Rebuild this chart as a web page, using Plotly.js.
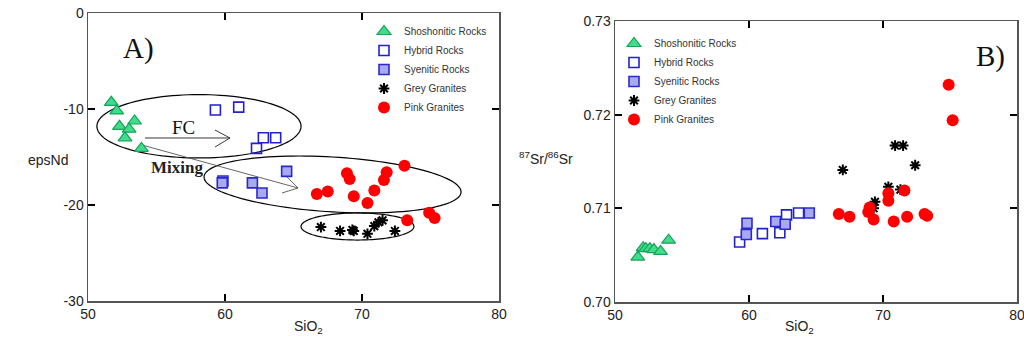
<!DOCTYPE html>
<html>
<head>
<meta charset="utf-8">
<script src="https://cdn.plot.ly/plotly-3.0.1.min.js"></script>
<style>
  html, body { margin: 0; padding: 0; background: #fff; }
  #chart { width: 1024px; height: 345px; }
</style>
</head>
<body>
<div id="chart"></div>
<script>
// ---- Panel A: SiO2 vs epsNd ----
const shoshSiO2A = [51.7, 52.1, 52.3, 53.4, 53.0, 52.7, 53.9];
const shoshNd    = [-9.3, -10.2, -11.8, -11.25, -12.1, -13.0, -14.1];
const hybridSiO2A = [59.3, 61.0, 62.8, 63.7, 62.3];
const hybridNd    = [-10.1, -9.8, -13.0, -13.0, -14.1];
const syenSiO2A = [59.85, 59.8, 62.0, 62.7, 64.5];
const syenNd    = [-17.5, -17.7, -17.7, -18.75, -16.5];
const greySiO2A = [67.0, 68.4, 69.3, 69.4, 70.4, 70.9, 71.2, 71.5, 72.4];
const greyNd    = [-22.3, -22.7, -22.6, -22.7, -23.0, -22.2, -21.8, -21.6, -22.7];
const pinkSiO2A = [73.1, 71.8, 71.6, 68.9, 69.1, 67.5, 66.7, 69.4, 70.9, 70.4, 73.3, 74.9, 75.3];
const pinkNd    = [-15.9, -16.6, -17.4, -16.7, -17.3, -18.6, -18.85, -19.1, -18.5, -19.8, -21.6, -20.8, -21.35];

// ---- Panel B: SiO2 vs 87Sr/86Sr ----
const shoshSiO2B = [51.7, 52.1, 52.3, 52.6, 52.9, 53.4, 54.0];
const shoshSr    = [0.7048, 0.7058, 0.7057, 0.7057, 0.7056, 0.7054, 0.7066];
const hybridSiO2B = [59.3, 61.0, 62.3, 62.8, 63.7];
const hybridSr    = [0.7064, 0.7073, 0.7074, 0.7093, 0.7095];
const syenSiO2B = [59.85, 59.8, 62.0, 62.7, 64.5];
const syenSr    = [0.7084, 0.7072, 0.7086, 0.7083, 0.7095];
const greySiO2B = [67.0, 70.4, 71.3, 69.3, 69.4, 70.9, 71.5, 72.4];
const greySr    = [0.7141, 0.7123, 0.7120, 0.7100, 0.7107, 0.7167, 0.7167, 0.7146];
const pinkSiO2B = [71.6, 70.4, 70.4, 69.0, 68.9, 66.7, 67.5, 69.3, 70.8, 71.8, 73.1, 73.3, 74.9, 75.2];
const pinkSr    = [0.7119, 0.7116, 0.7108, 0.7101, 0.7096, 0.7094, 0.7091, 0.7088, 0.7086, 0.7091, 0.7094, 0.7092, 0.7232, 0.7194];

const groupNames = ['Shoshonitic Rocks', 'Hybrid Rocks', 'Syenitic Rocks', 'Grey Granites', 'Pink Granites'];
const xTicks = [50, 60, 70, 80];
const ndTicks = [0, -10, -20, -30];
const ndTickText = ['0', '-10', '-20', '-30'];
const srTicks = [0.70, 0.71, 0.72, 0.73];

// marker styles per group
const styles = [
  { symbol: 'triangle-up', size: 12, color: '#3fdc8a', line: { color: '#17a25c', width: 1.2 } },
  { symbol: 'square-open', size: 10, color: '#2222cc', line: { color: '#2222cc', width: 1.6 } },
  { symbol: 'square', size: 10, color: '#a9a9f2', line: { color: '#2a2acc', width: 1.6 } },
  { symbol: 'asterisk-open', size: 9, color: '#000', line: { color: '#000', width: 2 } },
  { symbol: 'circle', size: 12, color: '#ff0000', line: { color: '#ff0000', width: 0 } }
];

function makeTraces(xs, ys, xa, ya, legendId) {
  return xs.map((x, i) => ({
    type: 'scatter', mode: 'markers',
    x: x, y: ys[i], xaxis: xa, yaxis: ya,
    name: groupNames[i], legend: legendId,
    marker: styles[i], cliponaxis: false
  }));
}

const traces = [].concat(
  makeTraces([shoshSiO2A, hybridSiO2A, syenSiO2A, greySiO2A, pinkSiO2A],
             [shoshNd, hybridNd, syenNd, greyNd, pinkNd], 'x', 'y', 'legend'),
  makeTraces([shoshSiO2B, hybridSiO2B, syenSiO2B, greySiO2B, pinkSiO2B],
             [shoshSr, hybridSr, syenSr, greySr, pinkSr], 'x2', 'y2', 'legend2')
);

// closed ellipse outline in data units; shear tilts it slightly
function ellipsePath(cx, cy, a, b, shear) {
  let p = '';
  for (let k = 0; k <= 120; k++) {
    const t = 2 * Math.PI * k / 120;
    const dx = a * Math.cos(t);
    const x = cx + dx;
    const y = cy + b * Math.sin(t) + shear * dx;
    p += (k === 0 ? 'M' : 'L') + x.toFixed(3) + ',' + y.toFixed(3);
  }
  return p + 'Z';
}

// line with an open V head
function arrowPath(x0, y0, x1, y1, bx0, by0, bx1, by1) {
  return `M${x0},${y0}L${x1},${y1}M${bx0},${by0}L${x1},${y1}L${bx1},${by1}`;
}

const shapes = [
  { type: 'path', xref: 'x', yref: 'y', layer: 'below',
    path: ellipsePath(58.1, -11.8, 7.45, 3.3, 0), line: { color: '#000', width: 1.2 } },
  { type: 'path', xref: 'x', yref: 'y', layer: 'below',
    path: ellipsePath(67.85, -17.86, 9.38, 2.86, -0.083), line: { color: '#000', width: 1.2 } },
  { type: 'path', xref: 'x', yref: 'y', layer: 'below',
    path: ellipsePath(69.67, -22.24, 4.12, 1.41, 0), line: { color: '#000', width: 1.2 } },
  { type: 'path', xref: 'x', yref: 'y', layer: 'below',
    path: arrowPath(54.16, -13.02, 60.36, -13.02, 59.27, -12.19, 59.27, -13.96),
    line: { color: '#222', width: 0.9 } },
  { type: 'path', xref: 'x', yref: 'y', layer: 'below',
    path: arrowPath(53.94, -13.75, 65.33, -18.23, 64.53, -17.08, 64.16, -18.75),
    line: { color: '#555', width: 0.9 } }
];

const serif = 'Liberation Serif, Times New Roman, serif';
const sans = 'Liberation Sans, Arial, Helvetica, sans-serif';

const annotations = [
  { xref: 'x', yref: 'y', x: 53.65, y: -3.65, text: 'A)', showarrow: false,
    font: { family: serif, size: 29, color: '#111' } },
  { xref: 'x', yref: 'y', x: 57.0, y: -11.9, text: 'FC', showarrow: false,
    font: { family: serif, size: 19, color: '#111' } },
  { xref: 'x', yref: 'y', x: 56.5, y: -16.05, text: '<b>Mixing</b>', showarrow: false,
    font: { family: serif, size: 17, color: '#222' } },
  { xref: 'x2', yref: 'y2', x: 78.0, y: 0.7262, text: 'B)', showarrow: false,
    font: { family: serif, size: 29, color: '#111' } },
  { xref: 'paper', yref: 'paper', x: 292 / 1024, y: (345 - 338) / 345, text: 'SiO<sub>2</sub>',
    showarrow: false, font: { family: sans, size: 14, color: '#222' } },
  { xref: 'paper', yref: 'paper', x: 816 / 1024, y: (345 - 338) / 345, text: 'SiO<sub>2</sub>',
    showarrow: false, font: { family: sans, size: 14, color: '#222' } },
  { xref: 'paper', yref: 'paper', x: 26 / 1024, y: (345 - 160) / 345, text: 'epsNd',
    showarrow: false, font: { family: sans, size: 14, color: '#222' } },
  { xref: 'paper', yref: 'paper', x: 546 / 1024, y: (345 - 158) / 345,
    text: '<sup>87</sup>Sr/<sup>86</sup>Sr',
    showarrow: false, font: { family: sans, size: 14, color: '#222' } }
];

const axisBase = {
  showgrid: false, zeroline: false,
  showline: true, linecolor: '#555', linewidth: 1.5, mirror: 'ticks',
  ticks: 'inside', ticklen: 7, tickwidth: 2, tickcolor: '#000',
  tickfont: { family: sans, size: 14, color: '#222' },
  ticklabeloverflow: 'allow',
  fixedrange: true
};

const layout = {
  width: 1024, height: 345,
  margin: { l: 0, r: 0, t: 0, b: 0 },
  paper_bgcolor: '#fff', plot_bgcolor: '#fff',
  font: { family: sans },
  xaxis: Object.assign({}, axisBase, {
    domain: [88 / 1024, 499 / 1024], range: [50, 80],
    tickmode: 'array', tickvals: xTicks, anchor: 'y'
  }),
  yaxis: Object.assign({}, axisBase, {
    domain: [(345 - 301) / 345, (345 - 13) / 345], range: [-30, 0],
    tickmode: 'array', tickvals: ndTicks, ticktext: ndTickText, anchor: 'x'
  }),
  xaxis2: Object.assign({}, axisBase, {
    domain: [615 / 1024, 1017 / 1024], range: [50, 80],
    tickmode: 'array', tickvals: xTicks, anchor: 'y2'
  }),
  yaxis2: Object.assign({}, axisBase, {
    domain: [(345 - 302) / 345, (345 - 21) / 345], range: [0.70, 0.73],
    tickmode: 'array', tickvals: srTicks, tickformat: '.2f', anchor: 'x2'
  }),
  legend: {
    x: 364 / 1024, y: (345 - 17) / 345, xanchor: 'left', yanchor: 'top',
    bgcolor: 'rgba(0,0,0,0)', borderwidth: 0,
    font: { family: sans, size: 10, color: '#333' }, itemsizing: 'trace'
  },
  legend2: {
    x: 614 / 1024, y: (345 - 29) / 345, xanchor: 'left', yanchor: 'top',
    bgcolor: 'rgba(0,0,0,0)', borderwidth: 0,
    font: { family: sans, size: 10, color: '#333' }, itemsizing: 'trace'
  },
  shapes: shapes,
  annotations: annotations
};

Plotly.newPlot('chart', traces, layout, { staticPlot: true, displayModeBar: false });
</script>
</body>
</html>
